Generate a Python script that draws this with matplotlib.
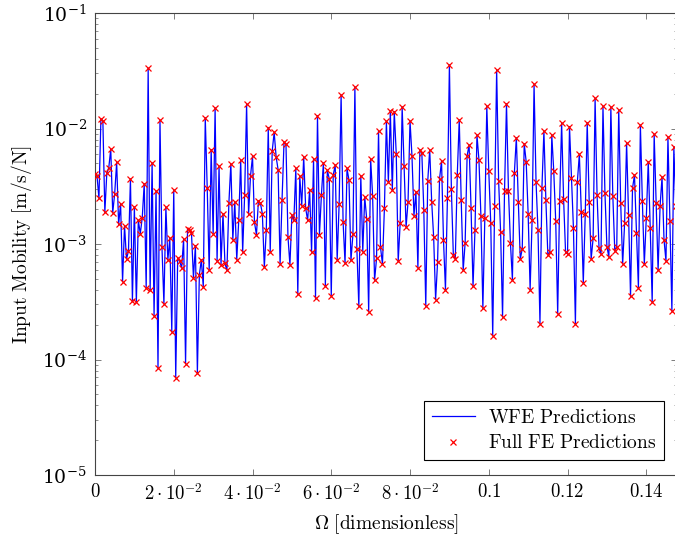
import numpy as np
import matplotlib
matplotlib.use("Agg")
import matplotlib.pyplot as plt
from matplotlib.ticker import FixedLocator, LogLocator, NullFormatter

plt.rcParams['mathtext.fontset'] = 'cm'
plt.rcParams['font.family'] = ['DejaVu Serif']

# frequency grid (dimensionless), one sample every 5e-4
omega_step = 0.0005

# input mobility [m/s/N]
mobility = [
    4.06e-3, 3.91e-3, 2.49e-3, 1.21e-2, 1.16e-2, 1.88e-3, 4.12e-3, 4.58e-3, 6.64e-3, 1.86e-3,
    2.73e-3, 5.09e-3, 1.48e-3, 2.23e-3, 4.72e-4, 1.44e-3, 7.41e-4, 8.70e-4, 3.66e-3, 3.21e-4,
    2.09e-3, 3.13e-4, 1.60e-3, 1.23e-3, 1.69e-3, 3.33e-3, 4.13e-4, 3.32e-2, 3.97e-4, 5.03e-3,
    2.40e-4, 2.88e-3, 8.40e-5, 1.18e-2, 9.50e-4, 3.04e-4, 2.09e-3, 7.30e-4, 1.12e-3, 1.74e-4,
    2.95e-3, 6.97e-5, 7.60e-4, 7.10e-4, 6.20e-4, 1.10e-3, 9.20e-5, 1.35e-3, 1.33e-3, 1.25e-3,
    5.10e-4, 9.70e-4, 7.70e-5, 5.40e-4, 7.30e-4, 4.24e-4, 1.24e-2, 3.03e-3, 5.90e-4, 6.56e-3,
    1.23e-3, 1.51e-2, 7.10e-4, 4.70e-3, 6.60e-4, 1.83e-3, 6.80e-4, 5.90e-4, 2.26e-3, 4.96e-3,
    1.09e-3, 2.30e-3, 7.30e-4, 1.60e-3, 5.30e-3, 8.50e-4, 2.66e-3, 1.62e-2, 1.81e-3, 3.91e-3,
    5.74e-3, 1.54e-3, 1.20e-3, 2.36e-3, 2.26e-3, 1.83e-3, 6.30e-4, 1.33e-3, 1.02e-2, 8.50e-4,
    6.38e-3, 9.27e-3, 5.67e-3, 4.40e-3, 6.70e-4, 2.42e-3, 7.59e-3, 7.30e-3, 1.16e-3, 6.60e-4,
    1.78e-3, 1.60e-3, 4.52e-3, 3.67e-4, 3.85e-3, 2.15e-3, 5.67e-3, 2.04e-3, 1.60e-3, 2.95e-3,
    8.50e-4, 5.45e-3, 3.38e-4, 1.29e-2, 1.20e-3, 2.66e-3, 5.03e-3, 4.30e-4, 4.34e-3, 3.66e-3,
    3.57e-4, 3.96e-3, 4.83e-3, 7.30e-4, 2.23e-3, 1.95e-2, 1.56e-3, 6.80e-4, 4.52e-3, 3.56e-3,
    7.20e-4, 1.21e-3, 2.29e-2, 9.10e-4, 2.89e-4, 3.91e-3, 8.60e-4, 2.55e-3, 1.65e-3, 2.60e-4,
    5.45e-3, 2.62e-3, 4.85e-4, 7.50e-4, 9.52e-3, 9.40e-4, 6.70e-4, 2.06e-3, 1.15e-2, 3.47e-3,
    1.42e-2, 2.92e-3, 1.40e-2, 6.05e-3, 7.10e-4, 1.52e-3, 1.54e-2, 4.77e-3, 1.40e-3, 2.33e-3,
    1.16e-2, 5.74e-3, 1.76e-3, 2.84e-3, 6.20e-4, 6.56e-3, 6.14e-3, 1.98e-3, 2.89e-4, 3.51e-3,
    6.56e-3, 2.33e-3, 1.15e-3, 3.30e-4, 7.00e-4, 3.66e-3, 5.23e-3, 1.08e-3, 4.02e-4, 2.49e-3,
    3.55e-2, 2.99e-3, 8.00e-4, 7.40e-4, 3.96e-3, 1.19e-2, 2.39e-3, 5.90e-4, 1.03e-3, 5.82e-3,
    7.20e-3, 2.04e-3, 4.30e-4, 1.33e-3, 8.79e-3, 5.37e-3, 1.76e-3, 2.77e-4, 1.69e-3, 1.56e-2,
    4.29e-3, 1.52e-3, 1.61e-4, 2.15e-3, 3.23e-2, 3.51e-3, 1.28e-3, 2.33e-4, 2.88e-3, 1.64e-2,
    2.88e-3, 1.02e-3, 4.91e-4, 4.12e-3, 8.33e-3, 2.33e-3, 7.40e-4, 9.10e-4, 7.39e-3, 5.16e-3,
    1.81e-3, 4.02e-4, 1.60e-3, 2.41e-2, 3.47e-3, 1.31e-3, 2.04e-4, 3.08e-3, 9.52e-3, 2.39e-3,
    8.10e-4, 8.50e-4, 8.79e-3, 4.29e-3, 1.58e-3, 2.49e-4, 2.36e-3, 1.12e-2, 2.45e-3, 8.50e-4,
    8.20e-4, 1.04e-2, 3.70e-3, 1.37e-3, 2.04e-4, 3.47e-3, 5.98e-3, 1.88e-3, 4.60e-4, 1.81e-3,
    1.12e-2, 2.33e-3, 7.40e-4, 1.12e-3, 1.82e-2, 2.66e-3, 9.20e-4, 8.20e-4, 1.56e-2, 2.77e-3,
    9.50e-4, 7.70e-4, 1.54e-2, 2.62e-3, 8.70e-4, 9.50e-4, 1.46e-2, 2.26e-3, 6.70e-4, 1.52e-3,
    7.49e-3, 1.78e-3, 3.52e-4, 3.03e-3, 3.96e-3, 1.25e-3, 4.19e-4, 1.07e-2, 2.36e-3, 6.70e-4,
    1.67e-3, 5.16e-3, 1.38e-3, 3.13e-4, 8.90e-3, 2.26e-3, 5.90e-4, 2.12e-3, 3.80e-3, 1.09e-3,
    7.10e-4, 8.44e-3, 1.58e-3, 2.63e-4, 6.92e-3, 2.12e-3, 4.72e-4, 2.84e-3,
]
omega = omega_step * np.arange(len(mobility))

x_ticks = [0, 0.02, 0.04, 0.06, 0.08, 0.1, 0.12, 0.14]
x_tick_labels = [r'$0$', r'$2\cdot10^{-2}$', r'$4\cdot10^{-2}$', r'$6\cdot10^{-2}$',
                 r'$8\cdot10^{-2}$', r'$0.1$', r'$0.12$', r'$0.14$']

fig = plt.figure(figsize=(6.75, 5.39), dpi=100)
ax = fig.add_axes([95 / 675, 1 - 475 / 539, 582 / 675, 462 / 539])

ax.plot(omega, mobility, color='blue', lw=0.9, label=r'$\mathrm{WFE\ Predictions}$', zorder=2)
ax.plot(omega, mobility, ls='none', marker='x', color='red', ms=4, mew=0.9,
        label=r'$\mathrm{Full\ FE\ Predictions}$', zorder=3)

ax.set_yscale('log')
ax.set_ylim(1e-5, 1e-1)
ax.set_xlim(0, 0.1478)

ax.xaxis.set_major_locator(FixedLocator(x_ticks))
ax.set_xticklabels(x_tick_labels)
ax.yaxis.set_major_locator(LogLocator(base=10, numticks=10))
ax.yaxis.set_minor_locator(LogLocator(base=10, subs=np.arange(2, 10), numticks=20))
ax.yaxis.set_minor_formatter(NullFormatter())

ax.tick_params(which='both', direction='in', top=True, right=True, color='#666666',
               labelsize=13.5, pad=6)
ax.tick_params(which='major', length=4.5, width=0.6)
ax.tick_params(which='minor', length=2.5, width=0.5)
for sp in ax.spines.values():
    sp.set_color('#444444')
    sp.set_linewidth(0.8)

ax.set_xlabel(r'$\Omega\ \mathrm{[dimensionless]}$', fontsize=14, labelpad=6)
ax.set_ylabel(r'$\mathrm{Input\ Mobility\ [m/s/N]}$', fontsize=14, labelpad=6)

leg = ax.legend(loc='lower right', bbox_to_anchor=(0.978, 0.032), borderaxespad=0,
                fontsize=14, frameon=True, fancybox=False, edgecolor='black', framealpha=1,
                handlelength=2.2, borderpad=0.4, labelspacing=0.4, handletextpad=0.7)
leg.get_frame().set_linewidth(0.8)

fig.savefig('out.png', dpi=100)
